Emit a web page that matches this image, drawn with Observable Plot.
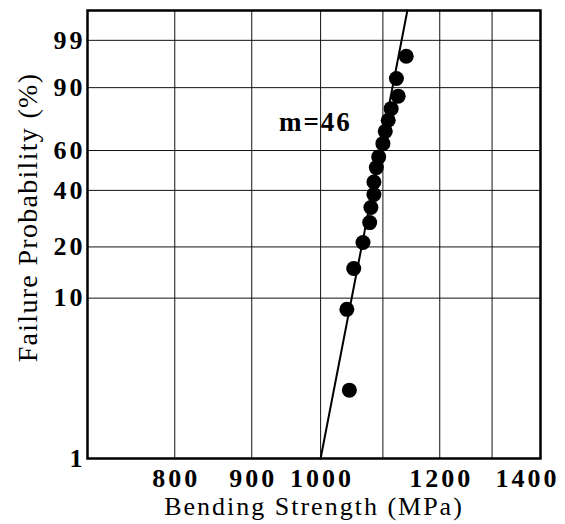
<!DOCTYPE html>
<html>
<head>
<meta charset="utf-8">
<script src="https://cdn.jsdelivr.net/npm/d3@7"></script>
<script src="https://cdn.jsdelivr.net/npm/@observablehq/plot@0.6"></script>
<style>
  html, body { margin: 0; padding: 0; background: #fff; }
  #chart svg { display: block; }
  #chart g.ticklab text { letter-spacing: 3px; }
  #chart g.note text { letter-spacing: 2px; }
  #chart g.xtitle text { letter-spacing: 2px; }
  #chart g.ytitle text { letter-spacing: 1.3px; }
</style>
</head>
<body>
<div id="chart"></div>
<script>
// ---- data ----
const probTicks = [1, 10, 20, 40, 60, 90, 99];            // failure probability (%) tick labels
const strengthTicks = [800, 900, 1000, 1200];              // labelled strength ticks (MPa)
const strengthEdgeTick = [1400];                           // last label, at the frame edge
const strengthGrid = [800, 900, 1000, 1100, 1200, 1300];   // vertical grid lines
const strengthDomain = [700, 1400];
const probDomain = [1, 99.92];

const strength = [1045, 1041, 1052, 1067, 1078, 1080, 1085, 1085, 1089, 1093, 1100, 1104, 1109, 1114, 1126, 1123, 1140];
const failurePct = [2.7, 8.55, 15.0, 21.2, 27.3, 32.8, 38.2, 43.9, 51.0, 56.6, 63.7, 70.3, 76.0, 81.6, 86.9, 92.8, 97.4];

const fitStrength = [1000, 1142];
const fitPct = [1, 99.92];

const annotation = ["m=46"];
const annotationStrength = [992];
const annotationPct = [75];

// Weibull probability transform: ln(-ln(1-F))
const wb = p => Math.log(-Math.log(1 - p / 100));

const points = strength.map((s, i) => ({s, w: wb(failurePct[i])}));
const fit = fitStrength.map((s, i) => ({s, w: wb(fitPct[i])}));
const note = annotation.map((t, i) => ({t, s: annotationStrength[i], w: wb(annotationPct[i])}));
const yTicks = probTicks.map(wb);
const yLabel = new Map(probTicks.map(p => [wb(p), String(p)]));

const chart = Plot.plot({
  width: 565,
  height: 524,
  marginLeft: 87,
  marginRight: 25,
  marginTop: 10,
  marginBottom: 66,
  style: {fontFamily: "'Liberation Serif', 'Times New Roman', serif", color: "#000", background: "#fff"},
  x: {type: "log", domain: strengthDomain, axis: null},
  y: {type: "linear", domain: probDomain.map(wb), axis: null},
  marks: [
    Plot.ruleX(strengthGrid, {stroke: "#111", strokeWidth: 1}),
    Plot.ruleY(yTicks.filter(v => v > wb(1)), {stroke: "#111", strokeWidth: 1}),
    // x tick labels
    Plot.text(strengthTicks, {x: d => d, frameAnchor: "bottom", lineAnchor: "middle", dy: 20, dx: 1.5,
      text: d => String(d), fontSize: 26, fontWeight: "bold", fill: "#000", className: "ticklab"}),
    Plot.text(strengthEdgeTick, {x: d => d, frameAnchor: "bottom", lineAnchor: "middle", dy: 20, dx: -13,
      text: d => String(d), fontSize: 26, fontWeight: "bold", fill: "#000", className: "ticklab"}),
    // y tick labels
    Plot.text(yTicks, {y: d => d, frameAnchor: "left", textAnchor: "end", lineAnchor: "middle", dx: -2,
      text: d => yLabel.get(d), fontSize: 26, fontWeight: "bold", fill: "#000", className: "ticklab"}),
    Plot.line(fit, {x: "s", y: "w", stroke: "#000", strokeWidth: 2}),
    Plot.dot(points, {x: "s", y: "w", r: 7.5, fill: "#000", stroke: "none"}),
    Plot.text(note, {x: "s", y: "w", text: "t", fontSize: 27, fontWeight: "bold", fill: "#000", className: "note"}),
    Plot.frame({stroke: "#000", strokeWidth: 2.5}),
    Plot.text(["Bending Strength (MPa)"], {frameAnchor: "bottom", lineAnchor: "middle", dy: 48, fontSize: 26, fill: "#000", className: "xtitle"}),
    Plot.text(["Failure Probability (%)"], {frameAnchor: "left", textAnchor: "middle", lineAnchor: "middle", rotate: -90, dx: -59, dy: -17, fontSize: 28, fill: "#000", className: "ytitle"})
  ]
});
document.getElementById("chart").append(chart);
</script>
</body>
</html>
